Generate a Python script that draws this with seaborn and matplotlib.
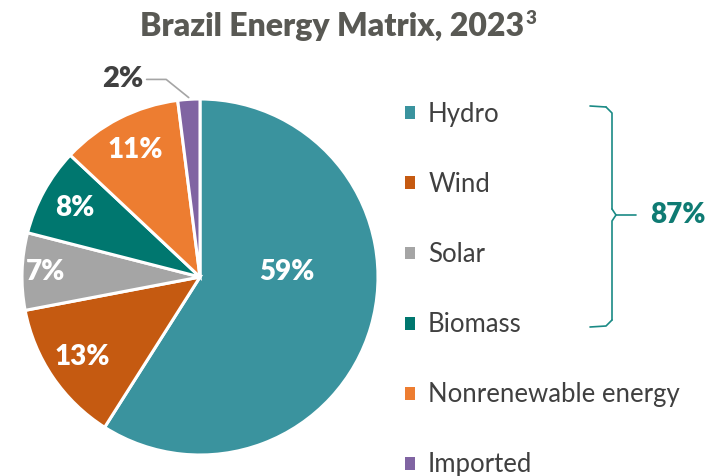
import numpy as np
import pandas as pd
import matplotlib.pyplot as plt
import seaborn as sns
from matplotlib.patches import Patch

sns.set_theme(style='white')
plt.rcParams['font.family'] = ['Lato', 'DejaVu Sans']

# data
sources = ['Hydro', 'Wind', 'Solar', 'Biomass', 'Nonrenewable energy', 'Imported']
shares = [59, 13, 7, 8, 11, 2]
colors = ['#3a939e', '#c55a11', '#a5a5a5', '#00776f', '#ed7d31', '#8064a2']
renewable_total = '87%'

df = pd.DataFrame({'source': sources, 'share': shares})

W, H = 716, 476
fig = plt.figure(figsize=(W / 100, H / 100), dpi=100)

# pie axes: centre (200, 277) px, radius 178 px
cx, cy, r = 200, 277, 178
ax = fig.add_axes([(cx - r) / W, (H - cy - r) / H, 2 * r / W, 2 * r / H])
wedges, texts, autotexts = ax.pie(
    df['share'], colors=colors, startangle=90, counterclock=False,
    autopct=lambda p: f'{round(p):d}%', pctdistance=0.8,
    wedgeprops=dict(edgecolor='white', linewidth=2.2),
    textprops=dict(color='white', fontsize=20, fontweight='heavy'))
ax.set_xlim(-1, 1)
ax.set_ylim(-1, 1)
ax.set_aspect('equal')

# tweak label positions
autotexts[0].set_position((0.49, 0.03))
th = np.deg2rad((wedges[2].theta1 + wedges[2].theta2) / 2)
autotexts[2].set_position((0.87 * np.cos(th), 0.87 * np.sin(th)))

# small slice label outside with leader
w = wedges[-1]
th = np.deg2rad((w.theta1 + w.theta2) / 2)
autotexts[-1].set_visible(False)
ax.text(-0.32, 1.11, f'{shares[-1]}%', ha='right', va='center',
        fontsize=21, fontweight='heavy', color='#404040', clip_on=False)
ax.plot([-0.30, -0.19, 1.01 * np.cos(th)], [1.11, 1.11, 1.01 * np.sin(th)],
        color='#a5a5a5', lw=1.2, clip_on=False)

# legend
handles = [Patch(facecolor=c, edgecolor='none') for c in colors]
fig.legend(handles, sources, loc='upper left', bbox_to_anchor=(405 / W, 1 - 102 / H),
           frameon=False, fontsize=18.5, handlelength=0.4, handleheight=0.4,
           handletextpad=0.5, labelspacing=1.755, labelcolor='#404040',
           borderpad=0, borderaxespad=0)

# overlay for bracket and title
ov = fig.add_axes([0, 0, 1, 1])
ov.set_xlim(0, W)
ov.set_ylim(H, 0)
ov.axis('off')
ov.patch.set_alpha(0)

teal = '#1a8a85'
x0, x1, xm = 590, 612, 636
y0, y1, ym = 106, 327, 215
ov.plot([x0, x1 - 6], [y0, y0 + 1], color=teal, lw=1.2)
ov.plot([x1 - 6, x1, x1], [y0 + 1, y0 + 7, ym - 6], color=teal, lw=1.2)
ov.plot([x1, x1 + 4, xm], [ym - 6, ym, ym], color=teal, lw=1.2)
ov.plot([x1 + 4, x1, x1], [ym, ym + 6, y1 - 7], color=teal, lw=1.2)
ov.plot([x1, x1 - 6, x0], [y1 - 7, y1 - 1, y1], color=teal, lw=1.2)
ov.text(650, ym, renewable_total, ha='left', va='center', fontsize=20,
        fontweight='heavy', color='#0f7b73')

t = ov.text(332, 26, 'Brazil Energy Matrix, 2023', ha='center', va='center',
            fontsize=23, fontweight='heavy', color='#595954')
fig.canvas.draw()
bb = t.get_window_extent().transformed(ov.transData.inverted())
ov.text(bb.x1 + 1, 27, '3', ha='left', va='bottom', fontsize=13.5,
        fontweight='heavy', color='#595954')

fig.savefig('out.png', dpi=100)
